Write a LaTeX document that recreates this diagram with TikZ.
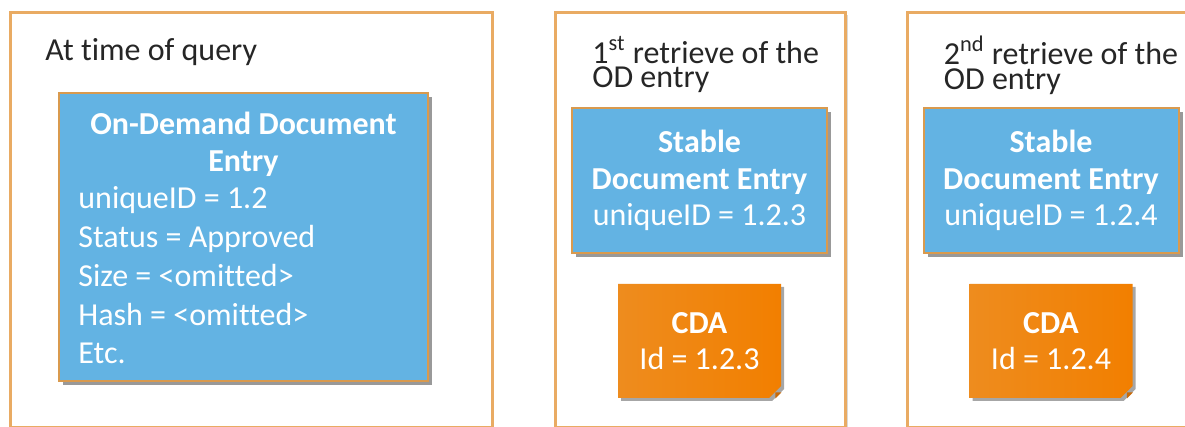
\documentclass[tikz,border=0pt]{standalone}
\usepackage{fontspec}
\setmainfont{Carlito}[Ligatures=NoCommon]
\usetikzlibrary{shapes.misc,shadows}
\definecolor{panelline}{HTML}{E9AB63}
\definecolor{entryblue}{HTML}{63B3E3}
\definecolor{entryline}{HTML}{D99A4E}
\definecolor{cdaleft}{HTML}{EE8C1E}
\definecolor{cdaright}{HTML}{F27F00}
\definecolor{cdafold}{HTML}{C96A08}
\definecolor{titletext}{HTML}{262626}
\newcommand{\bodyfont}{\fontsize{16}{18.3}\selectfont}
\begin{document}
\begin{tikzpicture}[x=0.5pt,y=-0.5pt,
    panel/.style={draw=panelline,line width=1.5pt,fill=white,
        drop shadow={shadow xshift=1pt,shadow yshift=-1pt,opacity=.15,fill=black}},
    entry/.style={draw=entryline,line width=1pt,fill=entryblue,
        drop shadow={shadow xshift=2pt,shadow yshift=-2pt,opacity=.4,fill=black}},
    ttl/.style={anchor=base west,inner sep=0pt,text=titletext,font=\bodyfont},
    wtxt/.style={inner sep=0pt,text=white,font=\bodyfont},
    cda/.style={chamfered rectangle,chamfered rectangle corners=south east,
        chamfered rectangle xsep=3pt,chamfered rectangle ysep=3pt,
        left color=cdaleft,right color=cdaright,minimum width=81.5pt,minimum height=57pt,
        inner sep=0pt,text=white,align=center,font=\bodyfont,
        drop shadow={shadow xshift=1.5pt,shadow yshift=-1.5pt,opacity=.35,fill=black}}]
\clip (0,0) rectangle (1185,427);
% query time
\node[panel,minimum width=241pt,minimum height=207.5pt] (p0) at (251,220.5) {};
\node[ttl] (t0) at (45,61) {At time of query};
\node[entry,minimum width=184.5pt,minimum height=144pt] (od) at (243.5,237) {};
\node[wtxt,anchor=base,font=\bodyfont\bfseries] (odh1) at (243.5,135) {On-Demand Document};
\node[wtxt,anchor=base,font=\bodyfont\bfseries] (odh2) at (243.5,172) {Entry};
\foreach \t [count=\i] in {uniqueID = 1.2,Status = Approved,Size = <omitted>,Hash = <omitted>,Etc.}
    \node[wtxt,anchor=base west] (odl\i) at (78,170.2+38.75*\i) {\t};
% retrieves
\foreach \x/\i/\s/\n in {699.5/1/st/3,1051/2/nd/4}{
    \node[panel,minimum width=145pt,minimum height=207.5pt] (p\i) at (\x+1,220.5) {};
    \node[ttl,anchor=north west,align=left,font=\fontsize{16}{12.3}\selectfont] (t\i) at (\x-107.5,36)
        {\i\textsuperscript{\s} retrieve of the\\OD entry};
    \node[entry,minimum width=127.5pt,minimum height=72.5pt,wtxt,align=center] (se\i) at (\x,180.5)
        {\textbf{Stable}\\\textbf{Document Entry}\\uniqueID = 1.2.\n};
    \node[cda] (cda\i) at (\x,341) {\textbf{CDA}\\Id = 1.2.\n};
    \fill[cdafold] ([xshift=-3pt]cda\i.south -| cda\i.east) -- ([yshift=3pt]cda\i.south -| cda\i.east)
        -- ([shift={(-3pt,3pt)}]cda\i.south -| cda\i.east) -- cycle;
}
\end{tikzpicture}
\end{document}
